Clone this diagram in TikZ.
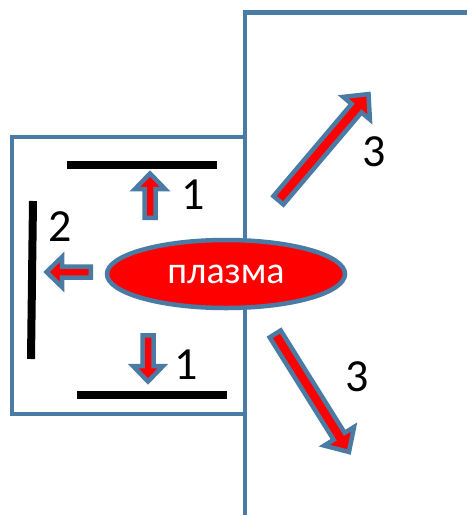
\documentclass[tikz,border=0pt]{standalone}
\usepackage{fontspec}
\setmainfont{Carlito}
\usetikzlibrary{shapes.geometric}
\definecolor{bord}{RGB}{74,123,165}
\tikzset{
  wall/.style={draw=bord, line width=4.5pt},
  plate/.style={draw=black, line width=8pt},
  barr/.style={draw=bord, fill=red, line width=4.5pt, line join=miter},
  blockarrow/.pic={\path[barr] (2.25,-5.5) -- ({#1-19},-5.5) -- ({#1-19},-15) -- ({#1-3.5},0) -- ({#1-19},15) -- ({#1-19},5.5) -- (2.25,5.5) -- cycle;},
  bigarrow/.pic={\path[barr] (2.25,-6.5) -- ({#1-22},-6.5) -- ({#1-22},-17.5) -- ({#1-3.5},0) -- ({#1-22},17.5) -- ({#1-22},6.5) -- (2.25,6.5) -- cycle;},
  num/.style={font=\fontsize{46}{50}\selectfont, inner sep=0pt, text=black},
}
\begin{document}
\begin{tikzpicture}[x=1pt,y=-1pt]
\fill[white] (0,0) rectangle (467,515);
\useasboundingbox (0,0) rectangle (467,515);
% walls
\draw[wall] (245,515) -- (245,12.5) -- (467,12.5);
\draw[wall] (245,137) -- (12,137) -- (12,414) -- (245,414);
% plates
\draw[plate] (67,165) -- (217,165);
\draw[plate] (77,395) -- (227,395);
\draw[plate] (33,201) -- (31,359);
% plasma
\node[ellipse, draw=bord, line width=4.5pt, fill=red, minimum width=238pt, minimum height=68pt, inner sep=0pt, text=white, font=\fontsize{38}{40}\selectfont] (plasma) at (226,274) {плазма};
% arrows
\pic[rotate=90] at (150,220) {blockarrow=50};
\pic[rotate=180] at (93,272) {blockarrow=50};
\pic[rotate=-90] at (148,333) {blockarrow=52};
\pic[rotate=49.7] at (277,202) {bigarrow=145};
\pic[rotate=-58] at (274,332) {bigarrow=145};
% labels
\node[num] (l1a) at (193,195) {1};
\node[num] (l1b) at (186,365) {1};
\node[num] (l2) at (60,227) {2};
\node[num] (l3a) at (374,152) {3};
\node[num] (l3b) at (357,377) {3};
\end{tikzpicture}
\end{document}
